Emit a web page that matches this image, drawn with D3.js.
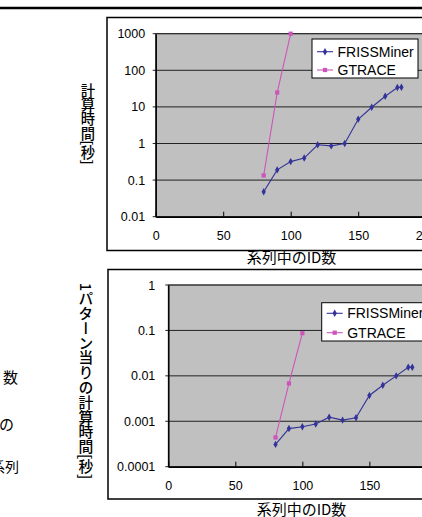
<!DOCTYPE html>
<html>
<head>
<meta charset="utf-8">
<script src="https://cdn.jsdelivr.net/npm/d3@7"></script>
<style>
  body { margin: 0; background: #fff; }
  svg { display: block; }
</style>
</head>
<body>
<svg></svg>
<script>
// data
let seriesNames = ['FRISSMiner', 'GTRACE'];
let frissIds = [80, 90, 100, 110, 120, 130, 140, 150, 160, 170, 179, 182];
let frissTime = [0.048, 0.19, 0.32, 0.4, 0.92, 0.86, 1.0, 4.6, 9.8, 19.6, 34, 34.5];
let frissPerPattern = [0.00031, 0.00069, 0.00076, 0.00087, 0.00123, 0.00106, 0.0012, 0.0037, 0.0062, 0.01, 0.0154, 0.0155];
let gtraceIds = [80, 90, 100];
let gtraceTime = [0.134, 24.7, 1000];
let gtracePerPattern = [0.00044, 0.0068, 0.087];
let xTicks = [0, 50, 100, 150, 200];
let timeTicks = [0.01, 0.1, 1, 10, 100, 1000];
let perPatternTicks = [0.0001, 0.001, 0.01, 0.1, 1];
let sideText = ['数', 'の', '系列'];

let w = 422;
let h = 517;
let svg = d3.select('svg').attr('width', w).attr('height', h);
let numFont = "'Liberation Sans', Arial, sans-serif";
let jpFont = "'Noto Sans CJK JP', sans-serif";
let colors = ['#333399', '#cc55bb'];

// page rule at the top
svg.append('line')
  .attr('x1', 0).attr('x2', w).attr('y1', 8).attr('y2', 8)
  .attr('stroke', '#000').attr('stroke-width', 2.5);

// clipped body text on the left edge
let sideY = [378, 425, 467];
let sideEnd = [18, 14, 19];
svg.selectAll('text.side')
  .data(sideText)
  .enter()
  .append('text')
  .attr('class', 'side')
  .attr('x', (d, i) => sideEnd[i])
  .attr('y', (d, i) => sideY[i])
  .attr('dy', '0.35em')
  .attr('text-anchor', 'end')
  .attr('font-family', jpFont)
  .attr('font-size', (d, i) => i === 2 ? 14 : 15)
  .text(d => d);

let drawChart = (c) => {
  let g = svg.append('g');

  // outer chart frame (runs off the right edge)
  g.append('rect')
    .attr('x', c.frame[0]).attr('y', c.frame[1])
    .attr('width', 400).attr('height', c.frame[2] - c.frame[1])
    .attr('fill', '#fff').attr('stroke', '#000').attr('stroke-width', 1.5);

  let x = d3.scaleLinear().domain([0, 200]).range([c.left, c.left + 270 * c.xk]);
  let y = d3.scaleLog().domain(d3.extent(c.ticks)).range([c.bottom, c.top]);

  g.append('rect')
    .attr('x', c.left).attr('y', c.top)
    .attr('width', x(200) - c.left).attr('height', c.bottom - c.top)
    .attr('fill', '#c0c0c0').attr('stroke', '#555').attr('stroke-width', 1);

  // gridlines
  g.selectAll('line.grid')
    .data(c.ticks)
    .enter()
    .append('line')
    .attr('x1', c.left - 3).attr('x2', x(200))
    .attr('y1', d => y(d)).attr('y2', d => y(d))
    .attr('stroke', '#222').attr('stroke-width', 1);

  // y axis
  let yAxis = d3.axisLeft(y).tickValues(c.ticks).tickSize(0).tickPadding(c.yPad).tickFormat(d => String(d));
  let ya = g.append('g').attr('transform', `translate(${c.left},0)`).call(yAxis);
  ya.select('.domain').attr('stroke', '#000').attr('stroke-width', 1.5);
  ya.selectAll('text').attr('font-family', numFont).attr('font-size', 12.5).attr('fill', '#000');

  // x axis, ticks pointing into the plot
  let xAxis = d3.axisBottom(x).tickValues(xTicks).tickSizeInner(-5).tickSizeOuter(0).tickPadding(14);
  let xa = g.append('g').attr('transform', `translate(0,${c.bottom})`).call(xAxis);
  xa.select('.domain').attr('stroke', '#000').attr('stroke-width', 1.5);
  xa.selectAll('.tick line').attr('stroke', '#000');
  xa.selectAll('text').attr('font-family', numFont).attr('font-size', 12.5).attr('fill', '#000');

  let line = d3.line().x(d => x(d[0])).y(d => y(d[1]));
  c.series.forEach((s, i) => {
    let pts = s.ids.map((id, k) => [id, s.vals[k]]);
    g.append('path')
      .datum(pts)
      .attr('d', line)
      .attr('fill', 'none')
      .attr('stroke', colors[i])
      .attr('stroke-width', 1.1);
    g.selectAll('path.m' + i)
      .data(pts)
      .enter()
      .append('path')
      .attr('class', 'm' + i)
      .attr('transform', d => `translate(${x(d[0])},${y(d[1])})`)
      .attr('d', d3.symbol().type(i === 0 ? d3.symbolDiamond : d3.symbolSquare).size(i === 0 ? 16 : 18))
      .attr('fill', colors[i]);
  });

  // legend
  let lg = g.append('g');
  lg.append('rect')
    .attr('x', c.legend[0]).attr('y', c.legend[1])
    .attr('width', c.legend[2]).attr('height', c.legend[3])
    .attr('fill', '#fff').attr('stroke', '#000').attr('stroke-width', 1);
  seriesNames.forEach((name, i) => {
    let ly = c.legendRows[i];
    lg.append('line')
      .attr('x1', c.legend[0] + 5).attr('x2', c.legend[0] + 21)
      .attr('y1', ly).attr('y2', ly)
      .attr('stroke', colors[i]).attr('stroke-width', 1.1);
    lg.append('path')
      .attr('transform', `translate(${c.legend[0] + 13},${ly})`)
      .attr('d', d3.symbol().type(i === 0 ? d3.symbolDiamond : d3.symbolSquare).size(i === 0 ? 16 : 18))
      .attr('fill', colors[i]);
    lg.append('text')
      .attr('x', c.legend[0] + 25.5).attr('y', ly)
      .attr('dy', '0.35em')
      .attr('font-family', numFont).attr('font-size', 14)
      .text(name);
  });

  // vertical y title
  g.append('text')
    .attr('x', c.yTitle[0]).attr('y', c.yTitle[1])
    .attr('text-anchor', 'middle')
    .style('writing-mode', 'vertical-rl')
    .attr('font-family', jpFont).attr('font-size', c.yTitle[2]).attr('font-weight', 500)
    .text(c.yLabel);

  // x title under the frame
  g.append('text')
    .attr('x', c.xTitle[0]).attr('y', c.xTitle[1])
    .attr('dy', '0.35em')
    .attr('text-anchor', 'middle')
    .attr('font-family', jpFont).attr('font-size', 15)
    .text('系列中のID数');
};

drawChart({
  frame: [107, 17.5, 250.5],
  left: 155.7, top: 33.7, bottom: 216.7, xk: 1,
  ticks: timeTicks, yPad: 10.5,
  series: [{ ids: frissIds, vals: frissTime }, { ids: gtraceIds, vals: gtraceTime }],
  legend: [312, 39, 106, 39], legendRows: [51.7, 70],
  yTitle: [88, 124, 14.3], yLabel: '計算時間[秒]',
  xTitle: [291.5, 258]
});

drawChart({
  frame: [108, 269.5, 499],
  left: 168.3, top: 285, bottom: 466.7, xk: 0.993,
  ticks: perPatternTicks, yPad: 13,
  series: [{ ids: frissIds, vals: frissPerPattern }, { ids: gtraceIds, vals: gtracePerPattern }],
  legend: [321.7, 302.7, 120, 38.3], legendRows: [313.3, 332.7],
  yTitle: [86, 381, 14.8], yLabel: '1パターン当りの計算時間[秒]',
  xTitle: [301.5, 510]
});
</script>
</body>
</html>
